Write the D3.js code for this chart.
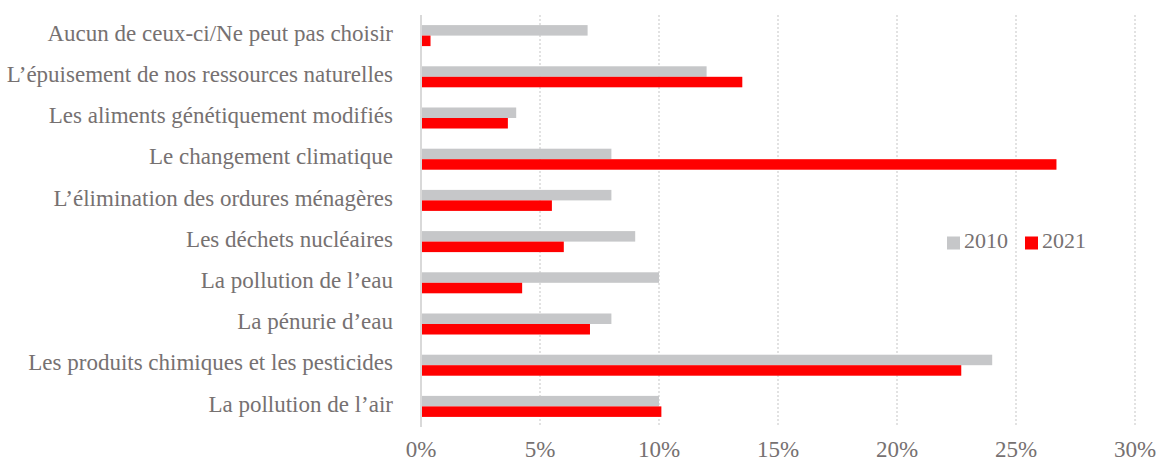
<!DOCTYPE html>
<html>
<head>
<meta charset="utf-8">
<script src="https://cdn.jsdelivr.net/npm/d3@7"></script>
<style>
body{margin:0;background:#fff}
text{font-family:"Liberation Serif","DejaVu Serif",serif;fill:#767171}
</style>
</head>
<body>
<div id="chart"></div>
<script>
var categories = ["Aucun de ceux-ci/Ne peut pas choisir","L’épuisement de nos ressources naturelles","Les aliments génétiquement modifiés","Le changement climatique","L’élimination des ordures ménagères","Les déchets nucléaires","La pollution de l’eau","La pénurie d’eau","Les produits chimiques et les pesticides","La pollution de l’air"]
var series = ["2010","2021"]
var values2010 = [7.0,12.0,4.0,8.0,8.0,9.0,10.0,8.0,24.0,10.0]
var values2021 = [0.4,13.5,3.65,26.7,5.5,6.0,4.25,7.1,22.7,10.1]
var ticks = [0,5,10,15,20,25,30]
var colors = {"2010":"#c6c7c9","2021":"#ff0000"}

var W=1156,H=463
var m={left:421,right:21,top:15,bottom:36}

var svg=d3.select("#chart").append("svg").attr("width",W).attr("height",H)

var x=d3.scaleLinear().domain([0,30]).range([m.left,W-m.right])
var y=d3.scaleBand().domain(categories).range([m.top,H-m.bottom]).paddingInner(0.49).paddingOuter(0.245)
var ys=d3.scaleBand().domain(series).range([0,y.bandwidth()])

// grid
svg.append("g").selectAll("line").data(ticks.slice(1)).enter().append("line")
	.attr("x1",function(d){return x(d)}).attr("x2",function(d){return x(d)})
	.attr("y1",m.top).attr("y2",H-m.bottom)
	.attr("stroke","#d9d9d9").attr("stroke-width",1.5).attr("stroke-dasharray","2,2")

var rows=categories.map(function(c,i){return {cat:c,v:{"2010":values2010[i],"2021":values2021[i]}}})

var g=svg.append("g").selectAll("g").data(rows).enter().append("g")
	.attr("transform",function(d){return "translate(0,"+y(d.cat)+")"})
g.selectAll("rect").data(function(d){return series.map(function(s){return {s:s,v:d.v[s]}})}).enter().append("rect")
	.attr("x",x(0)).attr("y",function(d){return ys(d.s)})
	.attr("width",function(d){return x(d.v)-x(0)}).attr("height",ys.bandwidth())
	.attr("fill",function(d){return colors[d.s]})

// axis line
svg.append("line").attr("x1",x(0)).attr("x2",x(0)).attr("y1",m.top).attr("y2",H-m.bottom)
	.attr("stroke","#d9d9d9").attr("stroke-width",2)

// category labels
svg.append("g").selectAll("text").data(categories).enter().append("text")
	.attr("x",393).attr("y",function(d){return y(d)+y.bandwidth()/2})
	.attr("text-anchor","end").attr("dominant-baseline","middle")
	.attr("font-size","23px").text(function(d){return d})

// tick labels
svg.append("g").selectAll("text").data(ticks).enter().append("text")
	.attr("x",function(d){return x(d)}).attr("y",452)
	.attr("text-anchor","middle").attr("dominant-baseline","middle")
	.attr("font-size","23px").text(function(d){return d+"%"})

// legend
var leg=svg.append("g").attr("transform","translate(947,243)")
var lx=[0,78]
series.forEach(function(s,i){
	leg.append("rect").attr("x",lx[i]).attr("y",-6.5).attr("width",13).attr("height",13).attr("fill",colors[s])
	leg.append("text").attr("x",lx[i]+17).attr("y",0).attr("dominant-baseline","middle").attr("font-size","22px").text(s)
})
</script>
</body>
</html>
